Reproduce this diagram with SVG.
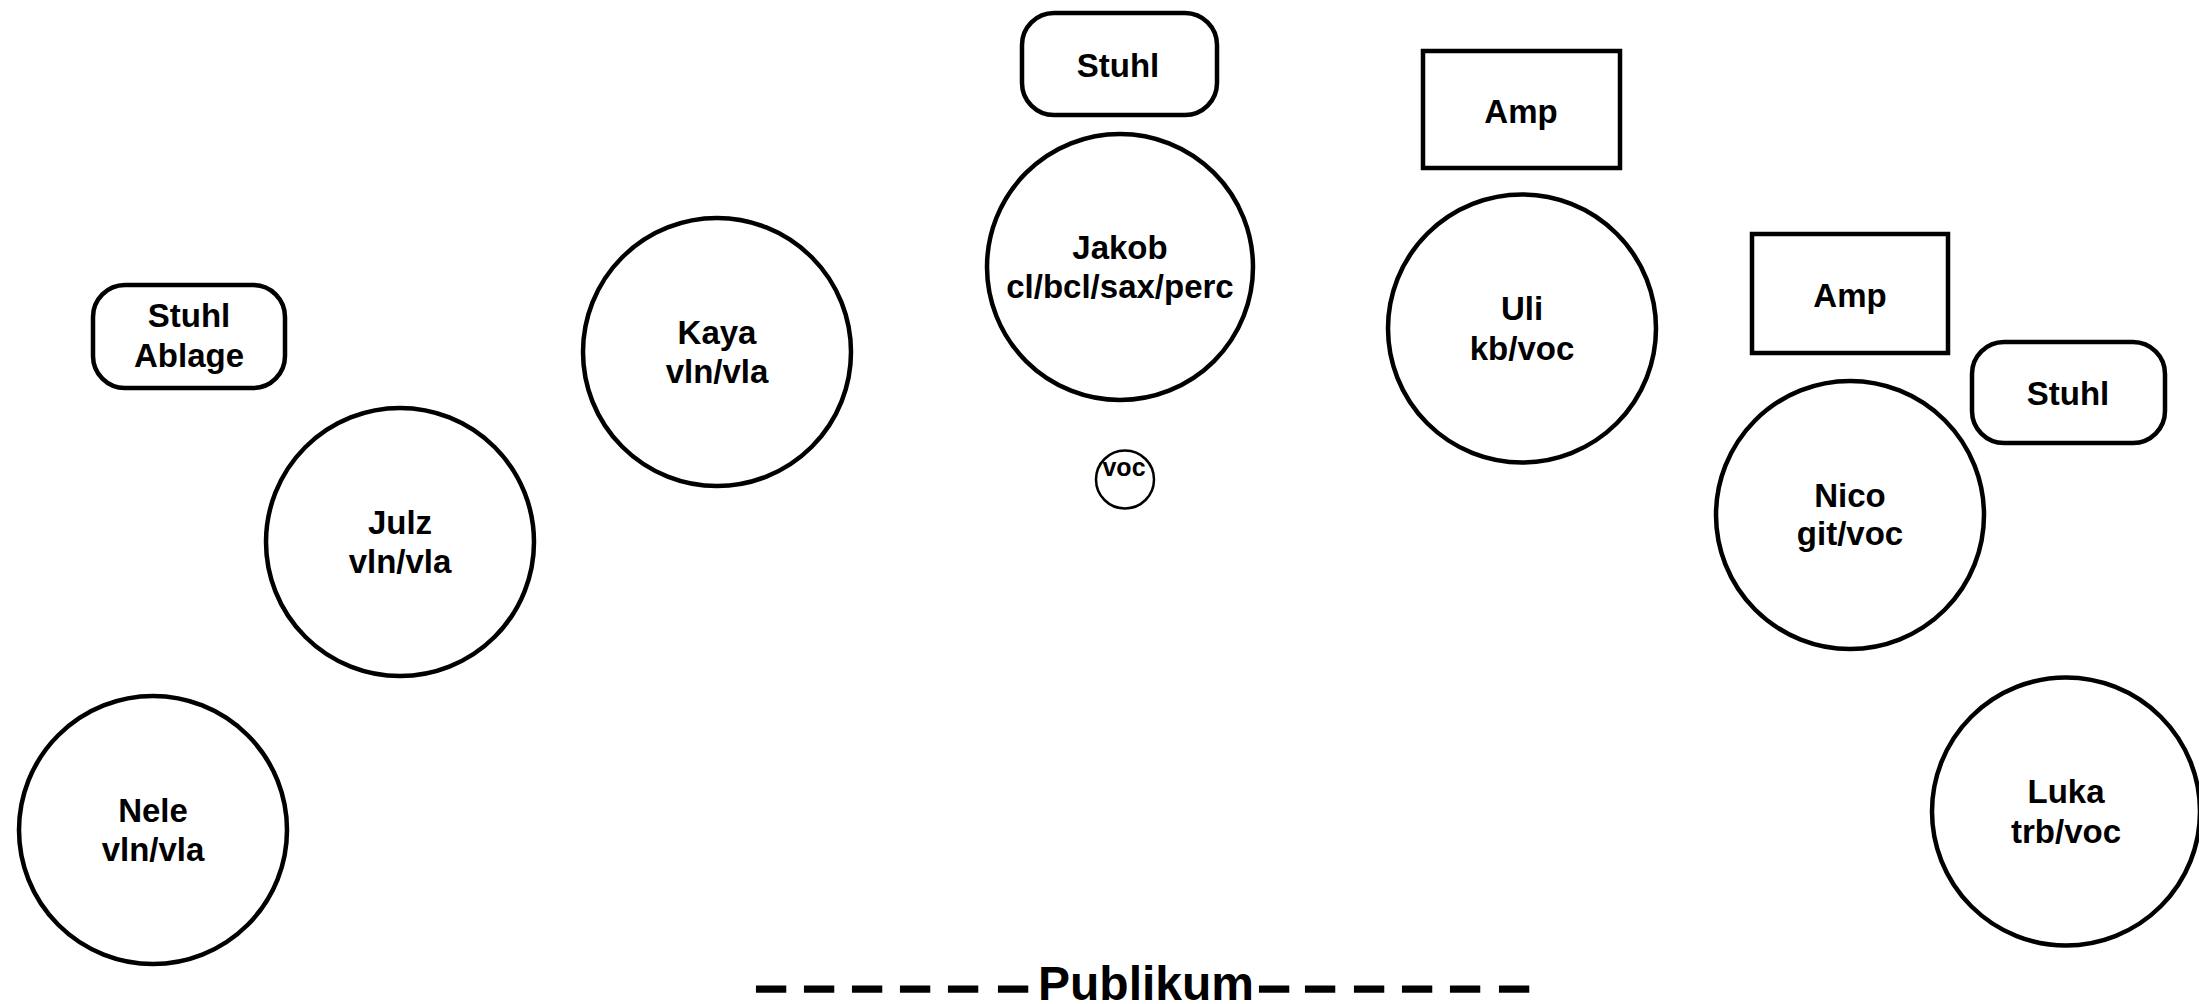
<svg xmlns="http://www.w3.org/2000/svg" width="2199" height="1004" viewBox="0 0 2199 1004">
<style>
  .p { fill: #fff; stroke: #000; stroke-width: 4.5; }
  .s { fill: #fff; stroke: #000; stroke-width: 2.5; }
  .t { font-family: "Liberation Sans", Arial, sans-serif; font-weight: bold; font-size: 33px; fill: #000; text-anchor: middle; }
  .v { font-family: "Liberation Sans", Arial, sans-serif; font-weight: bold; font-size: 25px; fill: #000; text-anchor: middle; }
  .pub { font-family: "Liberation Sans", Arial, sans-serif; font-weight: bold; font-size: 48px; fill: #000; }
  .d { font-size: 58px; stroke: #000; stroke-width: 1.6; }
</style>
<rect width="2199" height="1004" fill="#fff"/>
<g id="connectors"></g>
<g id="stuhl-ablage">
  <rect class="p" x="93" y="285" width="192" height="103" rx="32"/>
  <text class="t" x="189" y="327">Stuhl</text>
  <text class="t" x="189" y="367">Ablage</text>
</g>
<g id="nele">
  <circle class="p" cx="153" cy="830" r="134"/>
  <text class="t" x="153" y="822">Nele</text>
  <text class="t" x="153" y="861">vln/vla</text>
</g>
<g id="julz">
  <circle class="p" cx="400" cy="542" r="134"/>
  <text class="t" x="400" y="534">Julz</text>
  <text class="t" x="400" y="573">vln/vla</text>
</g>
<g id="kaya">
  <circle class="p" cx="717" cy="352" r="134"/>
  <text class="t" x="717" y="344">Kaya</text>
  <text class="t" x="717" y="383">vln/vla</text>
</g>
<g id="stuhl-jakob">
  <rect class="p" x="1022" y="13" width="195" height="102" rx="32"/>
  <text class="t" x="1118" y="77">Stuhl</text>
</g>
<g id="jakob">
  <circle class="p" cx="1120" cy="267" r="133"/>
  <text class="t" x="1120" y="259">Jakob</text>
  <text class="t" x="1120" y="298">cl/bcl/sax/perc</text>
</g>
<g id="voc">
  <circle class="s" cx="1125" cy="479.5" r="29"/>
  <text class="v" x="1124" y="476">voc</text>
</g>
<g id="amp-uli">
  <rect class="p" x="1423" y="51" width="197" height="117"/>
  <text class="t" x="1521" y="123">Amp</text>
</g>
<g id="uli">
  <circle class="p" cx="1522" cy="328.5" r="134"/>
  <text class="t" x="1522" y="320">Uli</text>
  <text class="t" x="1522" y="360">kb/voc</text>
</g>
<g id="amp-nico">
  <rect class="p" x="1752" y="234" width="196" height="119"/>
  <text class="t" x="1850" y="307">Amp</text>
</g>
<g id="stuhl-nico">
  <rect class="p" x="1972" y="342" width="193" height="101" rx="32"/>
  <text class="t" x="2068" y="405">Stuhl</text>
</g>
<g id="nico">
  <circle class="p" cx="1850" cy="515" r="134"/>
  <text class="t" x="1850" y="507">Nico</text>
  <text class="t" x="1850" y="545">git/voc</text>
</g>
<g id="luka">
  <circle class="p" cx="2066" cy="811.5" r="134"/>
  <text class="t" x="2066" y="803">Luka</text>
  <text class="t" x="2066" y="843">trb/voc</text>
</g>
<g id="publikum">
  <text class="pub"><tspan class="d" x="755 803 851 899 947 997" y="1005">––––––</tspan><tspan x="1038" y="1000">Publikum</tspan><tspan class="d" x="1258 1304 1353 1401 1449 1498" y="1005">––––––</tspan></text>
</g>
</svg>
